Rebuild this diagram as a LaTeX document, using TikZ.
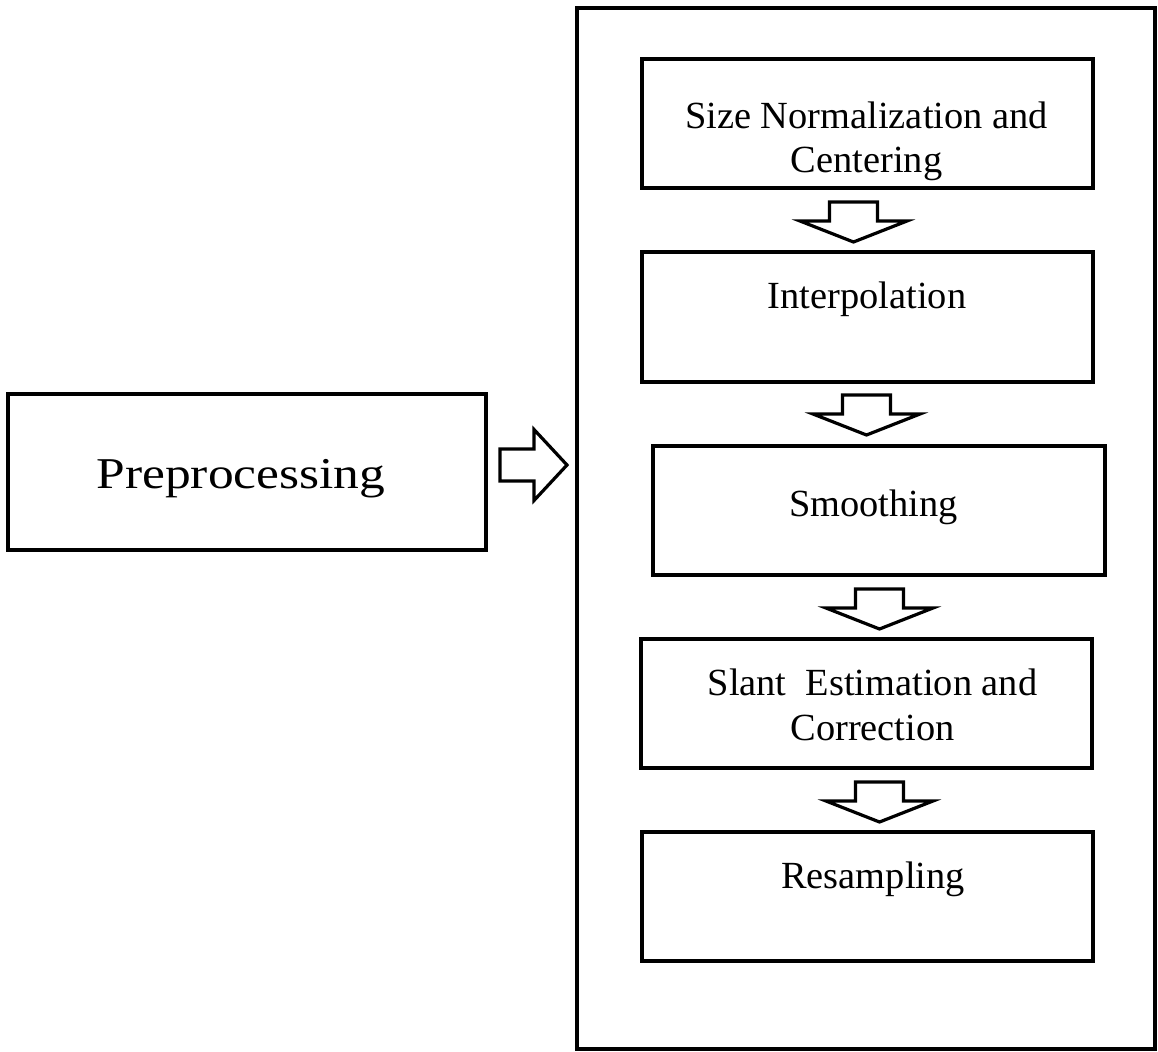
\documentclass[tikz,border=0pt]{standalone}
\usepackage{fontspec}
\setmainfont{Liberation Serif}
\usetikzlibrary{calc}

\tikzset{
  box/.style={draw, line width=2pt, inner sep=0pt},
  lbl/.style={inner sep=0pt, anchor=base, font=\fontsize{19.2}{22}\selectfont},
  bigarrow/.style={draw, line width=1.6pt, fill=white, line join=miter},
  pics/downarrow/.style={code={
    \draw[bigarrow] (-24,0) -- (24,0) -- (24,19) -- (53.5,19) -- (0,40)
      -- (-53.5,19) -- (-24,19) -- cycle;
  }},
  pics/rightarrow/.style={code={
    \draw[bigarrow] (0,-16) -- (34,-16) -- (34,-35.5) -- (67,0)
      -- (34,35.5) -- (34,16) -- (0,16) -- cycle;
  }}
}

\begin{document}
\begin{tikzpicture}[x=0.5pt, y=-0.5pt]
  \useasboundingbox (0,0) rectangle (1158,1051);

  % outer frame holding the preprocessing steps
  \node[box, minimum width=289pt, minimum height=520.5pt] (frame) at (866,528.5) {};

  % left-hand stage
  \node[box, minimum width=239pt, minimum height=78pt] (pre) at (247,472) {};
  \node[inner sep=0pt, anchor=base, font=\fontsize{22}{26}\selectfont]
    at (241,488) {\scalebox{1.17}[1]{Preprocessing}};

  % steps
  \node[box, minimum width=225.5pt, minimum height=64.5pt] (s1) at (867.5,123.5) {};
  \node[box, minimum width=225.5pt, minimum height=65pt]   (s2) at (867.5,317) {};
  \node[box, minimum width=226pt,   minimum height=64.5pt] (s3) at (879,510.5) {};
  \node[box, minimum width=225.5pt, minimum height=64.5pt] (s4) at (866.5,703.5) {};
  \node[box, minimum width=225.5pt, minimum height=64.5pt] (s5) at (867.5,896.5) {};

  % step labels
  \node[lbl] at (866.5,128) {Size Normalization and};
  \node[lbl] at (866.5,172) {Centering};
  \node[lbl] at (867,308) {Interpolation};
  \node[lbl] at (873.5,516) {Smoothing};
  \node[lbl] at (872.5,695) {Slant\ \ Estimation and};
  \node[lbl] at (872.5,740) {Correction};
  \node[lbl] at (873,888) {Resampling};

  % block arrows between the stages
  \pic at ($(pre.east)+(12,-7)$) {rightarrow};
  \pic at ($(s1.south)+(-14,12)$) {downarrow};
  \pic at ($(s2.south)+(-1,11)$) {downarrow};
  \pic at ($(s3.south)+(0.5,12)$) {downarrow};
  \pic at ($(s4.south)+(13,12)$) {downarrow};
\end{tikzpicture}
\end{document}
